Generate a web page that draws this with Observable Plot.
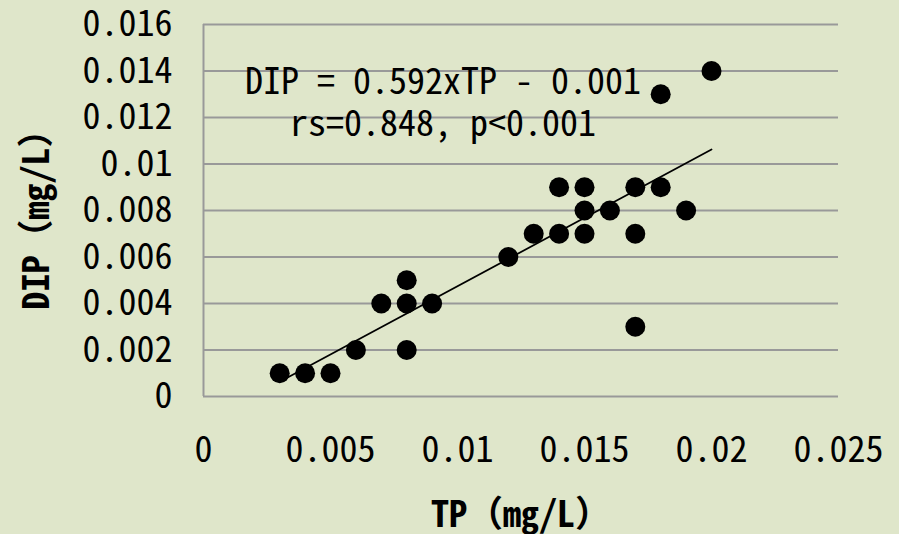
<!DOCTYPE html>
<html><head><meta charset="utf-8">
<script src="https://cdn.jsdelivr.net/npm/d3@7"></script>
<script src="https://cdn.jsdelivr.net/npm/@observablehq/plot@0.6"></script>
<style>
html,body{margin:0;padding:0;background:#dfe6ca;overflow:hidden;}
</style></head><body><div id="chart"></div>
<script>
const tp  = [0.003,0.004,0.005,0.006,0.007,0.008,0.008,0.008,0.009,0.012,0.013,0.014,0.014,0.015,0.015,0.015,0.016,0.017,0.017,0.017,0.018,0.018,0.019,0.020];
const dip = [0.001,0.001,0.001,0.002,0.004,0.005,0.004,0.002,0.004,0.006,0.007,0.009,0.007,0.009,0.008,0.007,0.008,0.009,0.007,0.003,0.013,0.009,0.008,0.014];
const xTicks = [0,0.005,0.01,0.015,0.02,0.025];
const xTickLabels = ["0","0.005","0.01","0.015","0.02","0.025"];
const yTicks = [0,0.002,0.004,0.006,0.008,0.01,0.012,0.014,0.016];
const yTickLabels = ["0","0.002","0.004","0.006","0.008","0.01","0.012","0.014","0.016"];
const xTitle = "TP（mg/L）";
const yTitle = "DIP（mg/L）";
const notes = ["DIP = 0.592xTP - 0.001", "rs=0.848, p<0.001"];

const points = tp.map((x, i) => ({tp: x, dip: dip[i]}));
const FONT = '"Noto Sans Mono CJK JP", "Noto Sans CJK JP", "DejaVu Sans Mono", monospace';
const chart = Plot.plot({
  width: 899, height: 534,
  marginLeft: 203, marginRight: 61, marginTop: 24, marginBottom: 138,
  style: {background: "#dfe6ca", fontFamily: FONT, color: "#000", overflow: "visible"},
  x: {domain: [0, 0.025]},
  y: {domain: [0, 0.016]},
  marks: [
    Plot.gridY(yTicks.slice(1), {stroke: "#999", strokeOpacity: 1, strokeWidth: 2}),
    Plot.ruleY([0], {stroke: "#999", strokeWidth: 2}),
    Plot.ruleX([0], {stroke: "#999", strokeWidth: 2}),
    Plot.axisY({ticks: yTicks, tickFormat: d => yTickLabels[yTicks.indexOf(d)], tickSize: 0, tickPadding: 31, fontSize: 36, label: null}),
    Plot.axisX({ticks: xTicks, tickFormat: d => xTickLabels[xTicks.indexOf(d)], tickSize: 0, tickPadding: 40, fontSize: 36, label: null}),
    Plot.linearRegressionY(points, {x: "tp", y: "dip", ci: 0, stroke: "#000", strokeWidth: 1.75}),
    Plot.dot(points, {x: "tp", y: "dip", r: 10, fill: "#000"}),
    Plot.text([notes.join("\n")], {frameAnchor: "top", dx: -78, dy: 39, lineAnchor: "top", textAnchor: "middle", lineHeight: 1.18, fontSize: 36}),
    Plot.text([xTitle], {frameAnchor: "bottom", dy: 119, lineAnchor: "middle", textAnchor: "middle", fontSize: 36, fontWeight: "bold"}),
    Plot.text([yTitle], {frameAnchor: "left", dx: -166, rotate: -90, lineAnchor: "middle", textAnchor: "middle", fontSize: 36, fontWeight: "bold"})
  ]
});
document.getElementById("chart").append(chart);
</script></body></html>
